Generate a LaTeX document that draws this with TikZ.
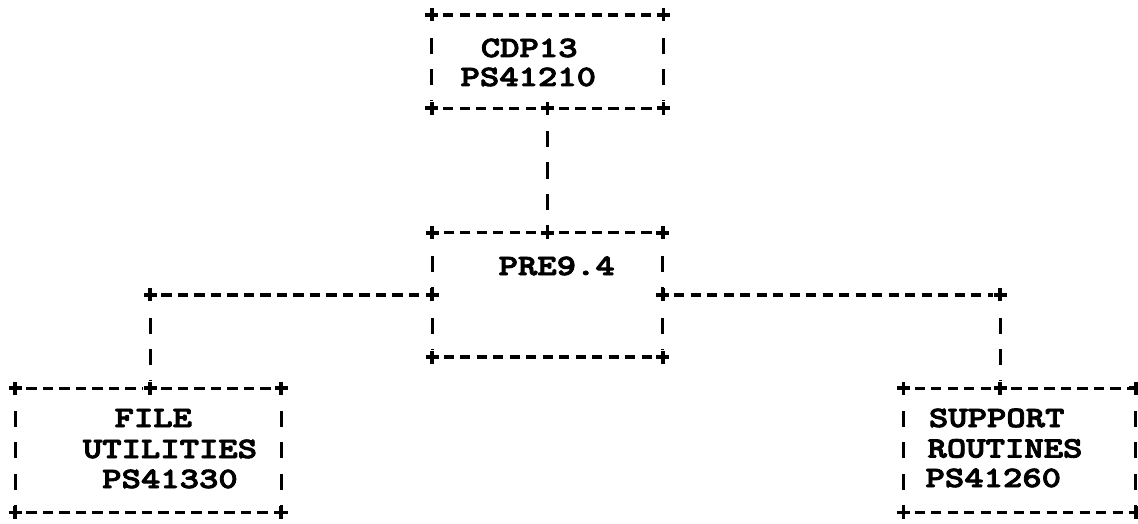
\documentclass[tikz,border=0pt]{standalone}
\usepackage{fontspec}
\newfontfamily\typer[FakeStretch=1.25,FakeBold=3]{lmmonolt10-bold.otf}
\usetikzlibrary{calc}
\tikzset{plus/.pic={\draw[line width=3.6pt] (-6.5pt,0pt) -- (6.5pt,0pt) (0pt,-6.5pt) -- (0pt,6.5pt);}}

\begin{document}
\begin{tikzpicture}[x=1pt,y=-1pt,
    frame/.style={rectangle,inner sep=0pt,outer sep=0pt},
    txt/.style={font=\typer\fontsize{29.5}{29.5}\selectfont,inner sep=0pt,anchor=base},
    hdash/.style={line width=3.3pt,dash pattern=on 10.25pt off 6.25pt,shorten <=11.4pt,shorten >=7pt},
    vdash/.style={line width=3pt,dash pattern=on 16pt off 15.1pt,shorten <=23.1pt,shorten >=7pt}]
    \fill[white] (0,0) rectangle (1138,524);
    \useasboundingbox (0,0) rectangle (1138,524);

    % the four boxes
    \draw node at (547.5,61.65)[name=cdp,frame,minimum width=231.6pt,minimum height=93.3pt]{};
    \draw node at (547.5,294.9)[name=pre,frame,minimum width=230.6pt,minimum height=124.4pt]{};
    \draw node at (148,450.4)[name=file,frame,minimum width=266pt,minimum height=124.4pt]{};
    \draw node at (1019.5,450.4)[name=supp,frame,minimum width=232.4pt,minimum height=124.4pt]{};
    \coordinate (lj) at (150,294.9);
    \coordinate (rj) at (1000,294.9);
    \coordinate (fj) at (lj |- file.north);
    \coordinate (sj) at (rj |- supp.north);

    % texts
    \draw node at (529.2,57)[name=cdpA,txt]{CDP13};
    \draw node at (528.3,86)[name=cdpB,txt]{PS41210};
    \draw node at (556.7,275)[name=preA,txt]{PRE9.4};
    \draw node at (153.3,427)[name=fileA,txt]{FILE};
    \draw node at (170,458)[name=fileB,txt]{UTILITIES};
    \draw node at (170,488)[name=fileC,txt]{PS41330};
    \draw node at (996.7,427)[name=suppA,txt]{SUPPORT};
    \draw node at (1005,457.5)[name=suppB,txt]{ROUTINES};
    \draw node at (993.3,487)[name=suppC,txt]{PS41260};

    % box borders
    \draw[hdash] (cdp.north west) -- (cdp.north east);
    \draw[hdash] (cdp.south west) -- (cdp.south);
    \draw[hdash] (cdp.south) -- (cdp.south east);
    \draw[vdash] (cdp.north west) -- (cdp.south west);
    \draw[vdash] (cdp.north east) -- (cdp.south east);

    \draw[hdash] (pre.north west) -- (pre.north);
    \draw[hdash] (pre.north) -- (pre.north east);
    \draw[hdash] (pre.south west) -- (pre.south east);
    \draw[vdash] (pre.north west) -- (pre.west);
    \draw[vdash] (pre.west) -- (pre.south west);
    \draw[vdash] (pre.north east) -- (pre.east);
    \draw[vdash] (pre.east) -- (pre.south east);

    \draw[hdash] (file.north west) -- (fj);
    \draw[hdash] (fj) -- (file.north east);
    \draw[hdash] (file.south west) -- (file.south east);
    \draw[vdash] (file.north west) -- (file.south west);
    \draw[vdash] (file.north east) -- (file.south east);

    \draw[hdash] (supp.north west) -- (sj);
    \draw[hdash] (sj) -- (supp.north east);
    \draw[hdash] (supp.south west) -- (supp.south east);
    \draw[vdash] (supp.north west) -- (supp.south west);
    \draw[vdash] (supp.north east) -- (supp.south east);

    % connectors
    \draw[vdash] (cdp.south) -- (pre.north);
    \draw[hdash] (lj) -- (pre.west);
    \draw[hdash] (pre.east) -- (rj);
    \draw[vdash] (lj) -- (fj);
    \draw[vdash] (rj) -- (sj);

    % corners and joints
    \pic at (cdp.north west){plus}; \pic at (cdp.north east){plus};
    \pic at (cdp.south west){plus}; \pic at (cdp.south){plus}; \pic at (cdp.south east){plus};
    \pic at (pre.north west){plus}; \pic at (pre.north){plus}; \pic at (pre.north east){plus};
    \pic at (pre.west){plus}; \pic at (pre.east){plus};
    \pic at (pre.south west){plus}; \pic at (pre.south east){plus};
    \pic at (lj){plus}; \pic at (rj){plus};
    \pic at (file.north west){plus}; \pic at (fj){plus}; \pic at (file.north east){plus};
    \pic at (file.south west){plus}; \pic at (file.south east){plus};
    \pic at (supp.north west){plus}; \pic at (sj){plus}; \pic at (supp.north east){plus};
    \pic at (supp.south west){plus}; \pic at (supp.south east){plus};
\end{tikzpicture}
\end{document}
